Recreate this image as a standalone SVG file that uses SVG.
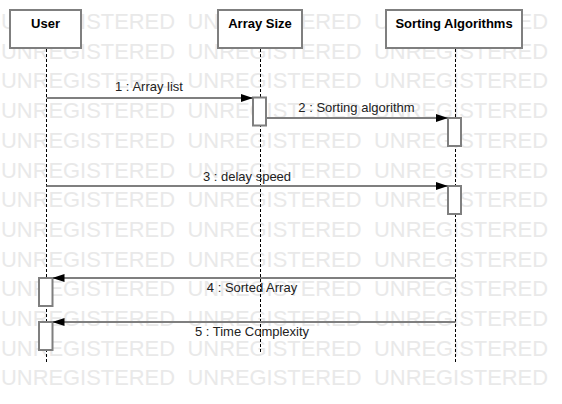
<svg xmlns="http://www.w3.org/2000/svg" width="562" height="404" viewBox="0 0 562 404">
<style>
.wm{font-family:"Liberation Sans",Arial,sans-serif;font-size:22.6px;fill:#e9e9e9}
.box{fill:#fff;stroke:#7f7f7f;stroke-width:2}
.act{fill:#fff;stroke:#7f7f7f;stroke-width:2}
.life{stroke:#000;stroke-width:1;stroke-dasharray:3 2;fill:none}
.head{font-family:"Liberation Sans",Arial,sans-serif;font-size:13px;font-weight:bold;fill:#000;text-anchor:middle}
.msg{stroke:#7f7f7f;stroke-width:1.8;fill:none;marker-end:url(#ah)}
.lbl{font-family:"Liberation Sans",Arial,sans-serif;font-size:13px;fill:#222;text-anchor:middle}
</style>
<defs>
<marker id="ah" viewBox="0 0 12 8" refX="12" refY="4" markerWidth="12" markerHeight="8" markerUnits="userSpaceOnUse" orient="auto">
<path d="M0,0 L12,4 L0,8 Z" fill="#000"/>
</marker>
</defs>
<rect width="562" height="404" fill="#fff"/>
<g id="watermark" lengthAdjust="spacingAndGlyphs">
<text class="wm" x="1" y="29" textLength="174" lengthAdjust="spacingAndGlyphs">UNREGISTERED</text><text class="wm" x="187.5" y="29" textLength="174" lengthAdjust="spacingAndGlyphs">UNREGISTERED</text><text class="wm" x="374" y="29" textLength="174" lengthAdjust="spacingAndGlyphs">UNREGISTERED</text>
<text class="wm" x="1" y="58.7" textLength="174" lengthAdjust="spacingAndGlyphs">UNREGISTERED</text><text class="wm" x="187.5" y="58.7" textLength="174" lengthAdjust="spacingAndGlyphs">UNREGISTERED</text><text class="wm" x="374" y="58.7" textLength="174" lengthAdjust="spacingAndGlyphs">UNREGISTERED</text>
<text class="wm" x="1" y="88.4" textLength="174" lengthAdjust="spacingAndGlyphs">UNREGISTERED</text><text class="wm" x="187.5" y="88.4" textLength="174" lengthAdjust="spacingAndGlyphs">UNREGISTERED</text><text class="wm" x="374" y="88.4" textLength="174" lengthAdjust="spacingAndGlyphs">UNREGISTERED</text>
<text class="wm" x="1" y="118.1" textLength="174" lengthAdjust="spacingAndGlyphs">UNREGISTERED</text><text class="wm" x="187.5" y="118.1" textLength="174" lengthAdjust="spacingAndGlyphs">UNREGISTERED</text><text class="wm" x="374" y="118.1" textLength="174" lengthAdjust="spacingAndGlyphs">UNREGISTERED</text>
<text class="wm" x="1" y="147.8" textLength="174" lengthAdjust="spacingAndGlyphs">UNREGISTERED</text><text class="wm" x="187.5" y="147.8" textLength="174" lengthAdjust="spacingAndGlyphs">UNREGISTERED</text><text class="wm" x="374" y="147.8" textLength="174" lengthAdjust="spacingAndGlyphs">UNREGISTERED</text>
<text class="wm" x="1" y="177.5" textLength="174" lengthAdjust="spacingAndGlyphs">UNREGISTERED</text><text class="wm" x="187.5" y="177.5" textLength="174" lengthAdjust="spacingAndGlyphs">UNREGISTERED</text><text class="wm" x="374" y="177.5" textLength="174" lengthAdjust="spacingAndGlyphs">UNREGISTERED</text>
<text class="wm" x="1" y="207.2" textLength="174" lengthAdjust="spacingAndGlyphs">UNREGISTERED</text><text class="wm" x="187.5" y="207.2" textLength="174" lengthAdjust="spacingAndGlyphs">UNREGISTERED</text><text class="wm" x="374" y="207.2" textLength="174" lengthAdjust="spacingAndGlyphs">UNREGISTERED</text>
<text class="wm" x="1" y="236.9" textLength="174" lengthAdjust="spacingAndGlyphs">UNREGISTERED</text><text class="wm" x="187.5" y="236.9" textLength="174" lengthAdjust="spacingAndGlyphs">UNREGISTERED</text><text class="wm" x="374" y="236.9" textLength="174" lengthAdjust="spacingAndGlyphs">UNREGISTERED</text>
<text class="wm" x="1" y="266.6" textLength="174" lengthAdjust="spacingAndGlyphs">UNREGISTERED</text><text class="wm" x="187.5" y="266.6" textLength="174" lengthAdjust="spacingAndGlyphs">UNREGISTERED</text><text class="wm" x="374" y="266.6" textLength="174" lengthAdjust="spacingAndGlyphs">UNREGISTERED</text>
<text class="wm" x="1" y="296.3" textLength="174" lengthAdjust="spacingAndGlyphs">UNREGISTERED</text><text class="wm" x="187.5" y="296.3" textLength="174" lengthAdjust="spacingAndGlyphs">UNREGISTERED</text><text class="wm" x="374" y="296.3" textLength="174" lengthAdjust="spacingAndGlyphs">UNREGISTERED</text>
<text class="wm" x="1" y="326" textLength="174" lengthAdjust="spacingAndGlyphs">UNREGISTERED</text><text class="wm" x="187.5" y="326" textLength="174" lengthAdjust="spacingAndGlyphs">UNREGISTERED</text><text class="wm" x="374" y="326" textLength="174" lengthAdjust="spacingAndGlyphs">UNREGISTERED</text>
<text class="wm" x="1" y="355.7" textLength="174" lengthAdjust="spacingAndGlyphs">UNREGISTERED</text><text class="wm" x="187.5" y="355.7" textLength="174" lengthAdjust="spacingAndGlyphs">UNREGISTERED</text><text class="wm" x="374" y="355.7" textLength="174" lengthAdjust="spacingAndGlyphs">UNREGISTERED</text>
<text class="wm" x="1" y="385.4" textLength="174" lengthAdjust="spacingAndGlyphs">UNREGISTERED</text><text class="wm" x="187.5" y="385.4" textLength="174" lengthAdjust="spacingAndGlyphs">UNREGISTERED</text><text class="wm" x="374" y="385.4" textLength="174" lengthAdjust="spacingAndGlyphs">UNREGISTERED</text>
</g>
<g id="user">
<line class="life" x1="46.5" y1="49" x2="46.5" y2="363"/>
<rect class="box" x="10" y="10" width="71" height="38"/>
<text class="head" x="45.5" y="27.5">User</text>
<rect class="act" x="39" y="278" width="13.5" height="28"/>
<rect class="act" x="39" y="322" width="13.5" height="28"/>
</g>
<g id="array-size">
<line class="life" x1="260.5" y1="49" x2="260.5" y2="353"/>
<rect class="box" x="218" y="10" width="84" height="38"/>
<text class="head" x="260" y="27.5">Array Size</text>
<rect class="act" x="253" y="97.5" width="13" height="28"/>
</g>
<g id="sorting-algorithms">
<line class="life" x1="455.5" y1="49" x2="455.5" y2="363"/>
<rect class="box" x="386" y="10" width="136" height="38"/>
<text class="head" x="454" y="27.5">Sorting Algorithms</text>
<rect class="act" x="448" y="118" width="13" height="28"/>
<rect class="act" x="448" y="186" width="13" height="28"/>
</g>
<g id="connectors">
<line class="msg" x1="46.5" y1="98" x2="253" y2="98"/>
<text class="lbl" x="149" y="91">1 : Array list</text>
<line class="msg" x1="266" y1="118" x2="448" y2="118"/>
<text class="lbl" x="356.5" y="111.5">2 : Sorting algorithm</text>
<line class="msg" x1="46.5" y1="186" x2="448" y2="186"/>
<text class="lbl" x="247" y="180.5">3 : delay speed</text>
<line class="msg" x1="455.5" y1="278" x2="52.5" y2="278"/>
<text class="lbl" x="252" y="291.5">4 : Sorted Array</text>
<line class="msg" x1="455.5" y1="322" x2="52.5" y2="322"/>
<text class="lbl" x="252" y="335.5">5 : Time Complexity</text>
</g>
</svg>
